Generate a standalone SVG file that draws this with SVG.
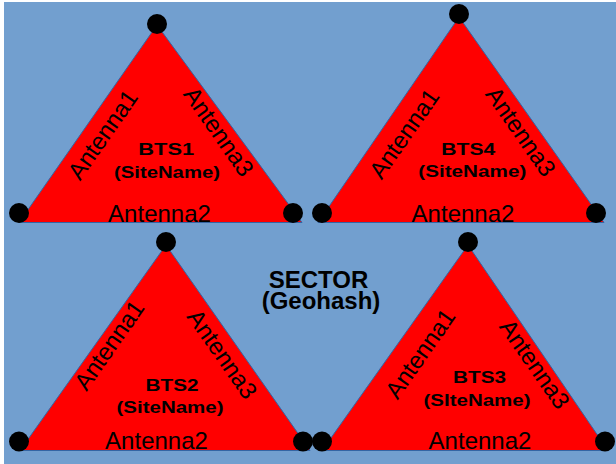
<svg xmlns="http://www.w3.org/2000/svg" width="616" height="464" viewBox="0 0 616 464">
<style>
.tri{fill:#ff0000;stroke:#3465a4;stroke-width:1}
.dot{fill:#000000}
.ant{font-family:"Liberation Sans",Arial,sans-serif;font-size:24px;fill:#000000;text-anchor:middle}
.bts{font-family:"Liberation Sans",Arial,sans-serif;font-size:17px;font-weight:bold;fill:#000000;text-anchor:middle}
.sec{font-family:"Liberation Sans",Arial,sans-serif;font-size:24px;font-weight:bold;fill:#000000;text-anchor:middle}
</style>
<rect x="4" y="2" width="612" height="462" fill="#729fcf"/>
<g id="bts1">
<polygon class="tri" points="157,25 19,222.5 302,222.5"/>
<circle class="dot" cx="157" cy="24" r="10"/>
<circle class="dot" cx="19" cy="213" r="10"/>
<circle class="dot" cx="293" cy="213" r="10"/>
<text class="ant" transform="translate(102.5,134.5) rotate(-55)" x="0" y="8.5">Antenna1</text>
<text class="ant" transform="translate(219,131.5) rotate(55)" x="0" y="8.5">Antenna3</text>
<text class="ant" x="159.5" y="222">Antenna2</text>
<text class="bts" x="166.3" y="154.5" textLength="56" lengthAdjust="spacingAndGlyphs">BTS1</text>
<text class="bts" x="167" y="177.5" textLength="106" lengthAdjust="spacingAndGlyphs">(SiteName)</text>
</g>
<g id="bts4">
<polygon class="tri" points="459,17 318,222.5 604,222.5"/>
<circle class="dot" cx="459" cy="14" r="10"/>
<circle class="dot" cx="322" cy="213" r="10"/>
<circle class="dot" cx="596" cy="213" r="10"/>
<text class="ant" transform="translate(404,133.5) rotate(-55)" x="0" y="8.5">Antenna1</text>
<text class="ant" transform="translate(521,131.5) rotate(55)" x="0" y="8.5">Antenna3</text>
<text class="ant" x="463" y="222">Antenna2</text>
<text class="bts" x="468.3" y="155" textLength="54" lengthAdjust="spacingAndGlyphs">BTS4</text>
<text class="bts" x="472.3" y="177" textLength="108" lengthAdjust="spacingAndGlyphs">(SiteName)</text>
</g>
<g id="bts2">
<polygon class="tri" points="166,245 20,450.5 310,450.5"/>
<circle class="dot" cx="166" cy="242" r="10"/>
<circle class="dot" cx="19" cy="441.5" r="10"/>
<circle class="dot" cx="303" cy="441.5" r="10"/>
<text class="ant" transform="translate(109,345) rotate(-55)" x="0" y="8.5">Antenna1</text>
<text class="ant" transform="translate(222.5,354) rotate(55)" x="0" y="8.5">Antenna3</text>
<text class="ant" x="156.5" y="449">Antenna2</text>
<text class="bts" x="172" y="390.7" textLength="53" lengthAdjust="spacingAndGlyphs">BTS2</text>
<text class="bts" x="170" y="413.3" textLength="107" lengthAdjust="spacingAndGlyphs">(SiteName)</text>
</g>
<g id="bts3">
<polygon class="tri" points="468,245 322,450.5 608,450.5"/>
<circle class="dot" cx="468" cy="242" r="10"/>
<circle class="dot" cx="322" cy="441.5" r="10"/>
<circle class="dot" cx="605" cy="441.5" r="10"/>
<text class="ant" transform="translate(420,353.5) rotate(-55)" x="0" y="8.5">Antenna1</text>
<text class="ant" transform="translate(535,364) rotate(55)" x="0" y="8.5">Antenna3</text>
<text class="ant" x="480" y="449">Antenna2</text>
<text class="bts" x="479.5" y="383.3" textLength="53" lengthAdjust="spacingAndGlyphs">BTS3</text>
<text class="bts" x="477" y="406" textLength="107" lengthAdjust="spacingAndGlyphs">(SIteName)</text>
</g>
<g id="sector">
<text class="sec" x="318.5" y="288.3">SECTOR</text>
<text class="sec" x="321" y="308.5">(Geohash)</text>
</g>
</svg>
